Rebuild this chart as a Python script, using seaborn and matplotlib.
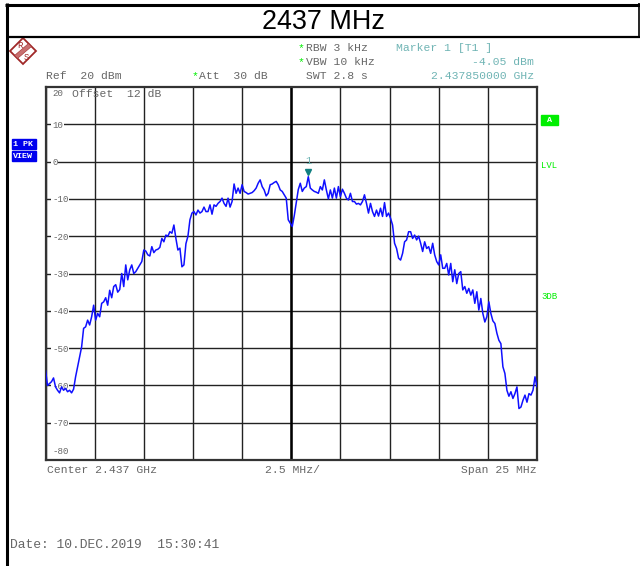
import numpy as np
import pandas as pd
import matplotlib
matplotlib.use('Agg')
import matplotlib.pyplot as plt
import seaborn as sns
from matplotlib.lines import Line2D
from matplotlib.patches import Polygon, Rectangle

# trace, one value per 0.1 MHz or so across the 25 MHz span
level_dbm = [
    -55.9, -60.0, -59.5, -59.0, -58.0, -60.4, -61.3, -62.0, -60.4, -61.3,
    -60.8, -61.7, -61.3, -62.0, -61.0, -57.7, -55.0, -52.3, -49.7, -44.7,
    -44.3, -42.5, -43.8, -41.6, -38.5, -42.5, -40.7, -41.6, -38.0, -37.6,
    -36.5, -38.5, -34.5, -36.5, -33.5, -33.0, -35.0, -34.3, -30.0, -33.5,
    -27.7, -31.7, -29.0, -27.7, -30.0, -29.5, -28.6, -27.7, -26.8, -23.7,
    -24.0, -25.0, -25.3, -22.8, -24.4, -23.7, -23.5, -23.0, -20.6, -21.5,
    -19.7, -20.0, -18.8, -19.2, -17.0, -20.6, -23.7, -23.2, -28.2, -27.7,
    -22.0, -20.0, -15.6, -13.8, -13.4, -14.3, -13.0, -13.8, -13.4, -12.2,
    -13.4, -13.4, -11.6, -14.1, -11.6, -12.0, -11.2, -10.7, -9.8, -11.2,
    -12.0, -9.8, -12.2, -10.7, -6.0, -8.5, -7.1, -8.5, -6.2, -8.0,
    -8.3, -8.7, -8.5, -8.3, -7.8, -7.1, -5.8, -4.9, -6.7, -7.6,
    -9.2, -8.5, -6.2, -6.0, -5.6, -5.3, -6.2, -7.6, -8.0, -8.9,
    -9.8, -15.6, -16.5, -17.4, -14.5, -11.0, -7.5, -5.8, -8.0, -7.1,
    -6.7, -4.05, -7.1, -7.6, -8.0, -8.2, -8.5, -6.7, -7.6, -4.9,
    -7.6, -10.0, -7.6, -9.8, -7.1, -9.8, -6.7, -9.4, -7.4, -8.5,
    -9.8, -10.3, -8.5, -10.7, -10.7, -11.4, -11.2, -11.6, -10.7, -8.9,
    -11.2, -13.8, -11.2, -13.4, -14.7, -13.0, -14.6, -12.5, -14.7, -11.0,
    -14.7, -13.8, -15.2, -17.0, -21.9, -23.3, -25.9, -26.4, -24.6, -21.5,
    -21.0, -18.8, -18.8, -20.6, -19.7, -21.0, -20.0, -21.9, -24.1, -21.5,
    -23.3, -22.8, -24.6, -21.9, -25.0, -26.8, -27.7, -25.0, -28.6, -28.6,
    -27.3, -30.4, -27.3, -32.2, -29.0, -32.7, -30.0, -29.5, -34.4, -33.5,
    -35.3, -34.0, -35.8, -34.4, -38.0, -34.9, -39.8, -36.7, -40.7, -43.0,
    -41.6, -37.6, -40.7, -42.7, -43.4, -46.0, -47.9, -48.8, -55.0, -56.8,
    -61.3, -62.9, -61.7, -63.5, -62.2, -60.4, -66.2, -65.8, -64.0, -62.6,
    -64.5, -62.2, -62.6, -61.3, -57.7, -60.4,
]
level_ticks = [10, 0, -10, -20, -30, -40, -50, -60, -70]
level_labels = ['10', '0', '-10', '-20', '-30', '-40', '-50', '-60', '-70']
freq_ticks = [-12.5, -10, -7.5, -5, -2.5, 0, 2.5, 5, 7.5, 10, 12.5]
marker_mhz = 0.85
marker_dbm = -4.05

W, H = 640, 566
GREY = '#666666'
TEAL = '#6fb4b4'
GREEN = '#00ee00'
MONO = 'Liberation Mono'

sns.set_style('white')
plt.rcParams['font.family'] = MONO

df = pd.DataFrame({'freq': np.linspace(-12.5, 12.5, len(level_dbm)), 'level': level_dbm})

fig = plt.figure(figsize=(W / 100, H / 100), dpi=100)
ax = fig.add_axes([45.5 / W, 1 - 460 / H, 491.5 / W, 373 / H])


def px(x, y):
    return x / W, 1 - y / H


def label(x, y, s, color=GREY, size=8.2, **kw):
    fig.text(*px(x, y), s, color=color, fontsize=size, va='center', **kw)


def frame(x0, y0, x1, y1, lw):
    fig.add_artist(Line2D([x0 / W, x1 / W], [1 - y0 / H, 1 - y1 / H], color='black', lw=lw,
                          solid_capstyle='butt'))


sns.lineplot(data=df, x='freq', y='level', color='#1010ff', lw=1.1, ax=ax, zorder=3)

ax.set_xlim(-12.5, 12.5)
ax.set_ylim(-80, 20)
ax.set_xticks(freq_ticks)
ax.set_xticklabels([])
ax.set_yticks(level_ticks)
ax.set_yticklabels(level_labels, ha='left', color=GREY, fontsize=6.6,
                   bbox=dict(facecolor='white', edgecolor='none', pad=0.6))
ax.tick_params(axis='y', length=0, pad=-4.8)
ax.tick_params(axis='x', length=0)
ax.set_xlabel('')
ax.set_ylabel('')
ax.set_axisbelow(True)
ax.grid(True, color='#222222', lw=1)
ax.axvline(0, color='black', lw=1.8, zorder=2)
for side, spine in ax.spines.items():
    spine.set_visible(True)
    spine.set_color('#333333')
    spine.set_linewidth(1.6)

# marker sits just above the peak it reads
ax.plot([marker_mhz], [marker_dbm + 1.3], marker='v', ms=5, color='#0f7f80', zorder=4)
ax.annotate('1', (marker_mhz, marker_dbm), xytext=(0, 11), textcoords='offset points',
            ha='center', va='center', color=TEAL, fontsize=7.5)
ax.annotate('20', (-12.5, 20), xytext=(5, -5), textcoords='offset points',
            ha='left', va='center', color=GREY, fontsize=6.6)
ax.annotate('Offset  12 dB', (-12.5, 20), xytext=(19, -5), textcoords='offset points',
            ha='left', va='center', color=GREY, fontsize=8.2)
ax.annotate('-80', (-12.5, -80), xytext=(5, 6), textcoords='offset points',
            ha='left', va='center', color=GREY, fontsize=6.6)

# outer frame and title band
frame(5, 4.5, 640, 4.5, 2.2)
frame(7, 37, 640, 37, 1.6)
frame(6.5, 3, 6.5, 566, 2.2)
frame(639, 3, 639, 37, 1.2)
fig.text(*px(323, 22), '2437 MHz', family='Liberation Sans', fontsize=19.4, color='black',
         ha='center', va='center')

# header readouts
label(46, 76, 'Ref  20 dBm')
label(192, 76, '*', color=GREEN)
label(199, 76, 'Att  30 dB')
label(298, 48, '*', color=GREEN)
label(306, 48, 'RBW 3 kHz')
label(298, 62, '*', color=GREEN)
label(306, 62, 'VBW 10 kHz')
label(306, 76, 'SWT 2.8 s')
label(396, 48, 'Marker 1 [T1 ]', color=TEAL)
label(534, 62, '-4.05 dBm', color=TEAL, ha='right')
label(534, 76, '2.437850000 GHz', color=TEAL, ha='right')

# footer
label(47, 470, 'Center 2.437 GHz')
label(265, 470, '2.5 MHz/')
label(537, 470, 'Span 25 MHz', ha='right')
label(10, 545, 'Date: 10.DEC.2019  15:30:41', size=9.4)

# side flags
fig.add_artist(Rectangle(px(12, 149), 24 / W, 10 / H, transform=fig.transFigure, color='#0000ee'))
fig.add_artist(Rectangle(px(12, 161), 24 / W, 10 / H, transform=fig.transFigure, color='#0000ee'))
label(13, 144, '1 PK', color='white', size=6, weight='bold')
label(13, 156, 'VIEW', color='white', size=6, weight='bold')
fig.add_artist(Rectangle(px(541, 125), 17 / W, 10 / H, transform=fig.transFigure, color=GREEN))
label(549.5, 120, 'A', color='white', size=6, weight='bold', ha='center')
label(541, 166, 'LVL', color=GREEN, size=6.5)
label(541, 296, '3DB', color=GREEN, size=6.5)

# R&S logo
fig.add_artist(Polygon([px(23, 38), px(36, 51), px(23, 64), px(10, 51)], closed=True,
                       transform=fig.transFigure, facecolor='white', edgecolor='#a02828', lw=1.3))
fig.add_artist(Polygon([px(14.5, 55.5), px(17.5, 58.5), px(31.5, 46.5), px(28.5, 43.5)], closed=True,
                       transform=fig.transFigure, facecolor='#c87070', edgecolor='#a02828', lw=0.4))
label(19.5, 45, 'R', color='#a02828', size=6.5, ha='center')
label(26, 57, 'S', color='#a02828', size=6.5, ha='center')

plt.savefig('out.png', dpi=100)
plt.close('all')
